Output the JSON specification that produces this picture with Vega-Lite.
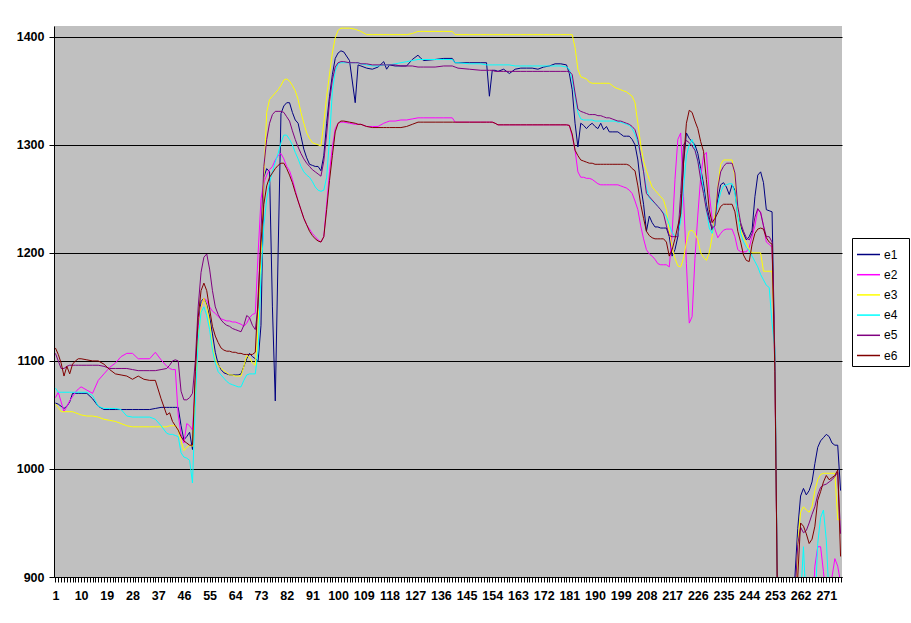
{
"$schema": "https://vega.github.io/schema/vega-lite/v6.json",
"width": 788, "height": 551,
"autosize": {"type": "none"},
"padding": {"left": 54, "top": 26, "right": 69, "bottom": 46},
"background": "white",
"config": {"view": {"fill": "#C0C0C0", "stroke": null}},
"data": {"values": [
{"i":1,"e1":1061,"e2":1066,"e3":1060,"e4":1075,"e5":1107,"e6":1112},
{"i":2,"e1":1060,"e2":1071,"e3":1057,"e4":1071,"e5":1100,"e6":1106},
{"i":3,"e1":1058,"e2":1062,"e3":1053,"e4":1071,"e5":1093,"e6":1098},
{"i":4,"e1":1056,"e2":1053,"e3":1053,"e4":1071,"e5":1093,"e6":1086},
{"i":5,"e1":1058,"e2":1058,"e3":1053,"e4":1071,"e5":1095,"e6":1095},
{"i":6,"e1":1062,"e2":1063,"e3":1053,"e4":1071,"e5":1096,"e6":1088},
{"i":7,"e1":1070,"e2":1067,"e3":1053,"e4":1071,"e5":1096,"e6":1097},
{"i":8,"e1":1070,"e2":1071,"e3":1052,"e4":1071,"e5":1096,"e6":1100},
{"i":9,"e1":1070,"e2":1074,"e3":1051,"e4":1071,"e5":1096,"e6":1102},
{"i":10,"e1":1070,"e2":1076,"e3":1050,"e4":1071,"e5":1096,"e6":1102},
{"i":12,"e1":1070,"e2":1073,"e3":1049,"e4":1071,"e5":1096,"e6":1101},
{"i":14,"e1":1065,"e2":1070,"e3":1049,"e4":1068,"e5":1096,"e6":1100},
{"i":16,"e1":1058,"e2":1082,"e3":1048,"e4":1058,"e5":1096,"e6":1100},
{"i":18,"e1":1055,"e2":1088,"e3":1046,"e4":1056,"e5":1095,"e6":1097},
{"i":20,"e1":1055,"e2":1094,"e3":1045,"e4":1056,"e5":1093,"e6":1092},
{"i":22,"e1":1055,"e2":1098,"e3":1044,"e4":1056,"e5":1093,"e6":1088},
{"i":24,"e1":1055,"e2":1104,"e3":1042,"e4":1055,"e5":1093,"e6":1087},
{"i":26,"e1":1055,"e2":1107,"e3":1040,"e4":1049,"e5":1093,"e6":1086},
{"i":28,"e1":1055,"e2":1107,"e3":1039,"e4":1048,"e5":1092,"e6":1083},
{"i":30,"e1":1055,"e2":1102,"e3":1039,"e4":1048,"e5":1091,"e6":1086},
{"i":32,"e1":1055,"e2":1102,"e3":1039,"e4":1048,"e5":1091,"e6":1083},
{"i":34,"e1":1055,"e2":1102,"e3":1039,"e4":1048,"e5":1091,"e6":1082},
{"i":36,"e1":1056,"e2":1108,"e3":1039,"e4":1046,"e5":1091,"e6":1082},
{"i":38,"e1":1057,"e2":1101,"e3":1039,"e4":1040,"e5":1092,"e6":1065},
{"i":40,"e1":1057,"e2":1095,"e3":1039,"e4":1033,"e5":1093,"e6":1050},
{"i":41,"e1":1057,"e2":1093,"e3":1040,"e4":1032,"e5":1096,"e6":1052},
{"i":42,"e1":1057,"e2":1092,"e3":1040,"e4":1032,"e5":1100,"e6":1044},
{"i":43,"e1":1057,"e2":1092,"e3":1040,"e4":1031,"e5":1101,"e6":1040},
{"i":44,"e1":1057,"e2":1050,"e3":1036,"e4":1030,"e5":1100,"e6":1036},
{"i":45,"e1":1040,"e2":1032,"e3":1026,"e4":1015,"e5":1072,"e6":1030},
{"i":46,"e1":1027,"e2":1024,"e3":1017,"e4":1011,"e5":1064,"e6":1026},
{"i":47,"e1":1030,"e2":1042,"e3":1020,"e4":1010,"e5":1064,"e6":1024},
{"i":48,"e1":1034,"e2":1040,"e3":1022,"e4":1008,"e5":1066,"e6":1022},
{"i":49,"e1":1018,"e2":1036,"e3":1021,"e4":987,"e5":1070,"e6":1022},
{"i":50,"e1":1080,"e2":1080,"e3":1070,"e4":1060,"e5":1100,"e6":1090},
{"i":51,"e1":1130,"e2":1130,"e3":1120,"e4":1120,"e5":1150,"e6":1140},
{"i":52,"e1":1155,"e2":1150,"e3":1150,"e4":1145,"e5":1182,"e6":1165},
{"i":53,"e1":1158,"e2":1158,"e3":1158,"e4":1150,"e5":1196,"e6":1172},
{"i":54,"e1":1152,"e2":1156,"e3":1150,"e4":1142,"e5":1199,"e6":1165},
{"i":55,"e1":1141,"e2":1150,"e3":1136,"e4":1129,"e5":1185,"e6":1148},
{"i":56,"e1":1125,"e2":1146,"e3":1112,"e4":1110,"e5":1165,"e6":1132},
{"i":57,"e1":1108,"e2":1144,"e3":1101,"e4":1098,"e5":1150,"e6":1123},
{"i":58,"e1":1097,"e2":1141,"e3":1096,"e4":1090,"e5":1143,"e6":1117},
{"i":59,"e1":1092,"e2":1139,"e3":1093,"e4":1087,"e5":1138,"e6":1112},
{"i":60,"e1":1089,"e2":1138,"e3":1091,"e4":1084,"e5":1135,"e6":1110},
{"i":61,"e1":1088,"e2":1137,"e3":1089,"e4":1081,"e5":1133,"e6":1109},
{"i":62,"e1":1087,"e2":1137,"e3":1087,"e4":1079,"e5":1132,"e6":1109},
{"i":63,"e1":1087,"e2":1136,"e3":1087,"e4":1078,"e5":1130,"e6":1108},
{"i":64,"e1":1087,"e2":1136,"e3":1086,"e4":1077,"e5":1129,"e6":1108},
{"i":65,"e1":1087,"e2":1135,"e3":1086,"e4":1076,"e5":1128,"e6":1107},
{"i":66,"e1":1088,"e2":1134,"e3":1086,"e4":1076,"e5":1127,"e6":1107},
{"i":67,"e1":1095,"e2":1132,"e3":1095,"e4":1082,"e5":1133,"e6":1106},
{"i":68,"e1":1102,"e2":1135,"e3":1105,"e4":1087,"e5":1142,"e6":1106},
{"i":69,"e1":1107,"e2":1140,"e3":1103,"e4":1088,"e5":1140,"e6":1106},
{"i":70,"e1":1104,"e2":1143,"e3":1098,"e4":1088,"e5":1133,"e6":1106},
{"i":71,"e1":1102,"e2":1144,"e3":1096,"e4":1088,"e5":1129,"e6":1108},
{"i":72,"e1":1100,"e2":1200,"e3":1130,"e4":1110,"e5":1150,"e6":1160},
{"i":73,"e1":1133,"e2":1250,"e3":1200,"e4":1180,"e5":1220,"e6":1210},
{"i":74,"e1":1270,"e2":1265,"e3":1270,"e4":1225,"e5":1280,"e6":1245},
{"i":75,"e1":1278,"e2":1272,"e3":1330,"e4":1250,"e5":1305,"e6":1262},
{"i":76,"e1":1275,"e2":1277,"e3":1342,"e4":1265,"e5":1320,"e6":1270},
{"i":77,"e1":1150,"e2":1280,"e3":1345,"e4":1275,"e5":1328,"e6":1274},
{"i":78,"e1":1063,"e2":1286,"e3":1348,"e4":1284,"e5":1331,"e6":1278},
{"i":79,"e1":1200,"e2":1290,"e3":1351,"e4":1292,"e5":1331,"e6":1281},
{"i":80,"e1":1329,"e2":1292,"e3":1355,"e4":1302,"e5":1331,"e6":1283},
{"i":81,"e1":1336,"e2":1287,"e3":1360,"e4":1309,"e5":1330,"e6":1283},
{"i":82,"e1":1339,"e2":1280,"e3":1361,"e4":1309,"e5":1326,"e6":1278},
{"i":83,"e1":1339,"e2":1276,"e3":1359,"e4":1305,"e5":1322,"e6":1272},
{"i":84,"e1":1330,"e2":1268,"e3":1355,"e4":1300,"e5":1313,"e6":1265},
{"i":85,"e1":1323,"e2":1258,"e3":1350,"e4":1293,"e5":1305,"e6":1256},
{"i":86,"e1":1320,"e2":1248,"e3":1342,"e4":1287,"e5":1298,"e6":1248},
{"i":87,"e1":1308,"e2":1240,"e3":1330,"e4":1280,"e5":1292,"e6":1240},
{"i":88,"e1":1296,"e2":1232,"e3":1320,"e4":1275,"e5":1287,"e6":1232},
{"i":89,"e1":1288,"e2":1226,"e3":1311,"e4":1272,"e5":1283,"e6":1226},
{"i":90,"e1":1282,"e2":1222,"e3":1306,"e4":1270,"e5":1280,"e6":1220},
{"i":91,"e1":1281,"e2":1218,"e3":1302,"e4":1266,"e5":1277,"e6":1216},
{"i":92,"e1":1280,"e2":1215,"e3":1301,"e4":1261,"e5":1275,"e6":1213},
{"i":93,"e1":1280,"e2":1212,"e3":1300,"e4":1258,"e5":1273,"e6":1211},
{"i":94,"e1":1276,"e2":1210,"e3":1299,"e4":1257,"e5":1271,"e6":1210},
{"i":95,"e1":1290,"e2":1215,"e3":1320,"e4":1258,"e5":1285,"e6":1215},
{"i":96,"e1":1320,"e2":1245,"e3":1345,"e4":1270,"e5":1310,"e6":1240},
{"i":97,"e1":1345,"e2":1275,"e3":1365,"e4":1305,"e5":1340,"e6":1267},
{"i":98,"e1":1365,"e2":1298,"e3":1385,"e4":1350,"e5":1360,"e6":1290},
{"i":99,"e1":1380,"e2":1315,"e3":1399,"e4":1368,"e5":1372,"e6":1312},
{"i":100,"e1":1385,"e2":1320,"e3":1406,"e4":1375,"e5":1376,"e6":1320},
{"i":101,"e1":1387,"e2":1321,"e3":1408,"e4":1376,"e5":1377,"e6":1322},
{"i":102,"e1":1386,"e2":1321,"e3":1408,"e4":1376,"e5":1377,"e6":1322},
{"i":104,"e1":1378,"e2":1320,"e3":1408,"e4":1376,"e5":1376,"e6":1321},
{"i":106,"e1":1339,"e2":1319,"e3":1407,"e4":1376,"e5":1376,"e6":1320},
{"i":107,"e1":1374,"e2":1319,"e3":1406,"e4":1376,"e5":1376,"e6":1319},
{"i":108,"e1":1373,"e2":1319,"e3":1405,"e4":1375,"e5":1375,"e6":1319},
{"i":110,"e1":1371,"e2":1317,"e3":1402,"e4":1374,"e5":1375,"e6":1317},
{"i":112,"e1":1370,"e2":1317,"e3":1402,"e4":1373,"e5":1374,"e6":1316},
{"i":114,"e1":1372,"e2":1317,"e3":1402,"e4":1373,"e5":1374,"e6":1316},
{"i":116,"e1":1377,"e2":1320,"e3":1402,"e4":1374,"e5":1374,"e6":1316},
{"i":117,"e1":1370,"e2":1321,"e3":1402,"e4":1374,"e5":1374,"e6":1316},
{"i":118,"e1":1374,"e2":1322,"e3":1402,"e4":1374,"e5":1374,"e6":1316},
{"i":120,"e1":1373,"e2":1322,"e3":1402,"e4":1375,"e5":1374,"e6":1316},
{"i":122,"e1":1373,"e2":1323,"e3":1402,"e4":1376,"e5":1373,"e6":1316},
{"i":124,"e1":1373,"e2":1323,"e3":1402,"e4":1377,"e5":1373,"e6":1317},
{"i":126,"e1":1379,"e2":1324,"e3":1403,"e4":1378,"e5":1373,"e6":1319},
{"i":128,"e1":1383,"e2":1325,"e3":1405,"e4":1379,"e5":1372,"e6":1321},
{"i":129,"e1":1380,"e2":1325,"e3":1405,"e4":1379,"e5":1372,"e6":1321},
{"i":130,"e1":1378,"e2":1325,"e3":1405,"e4":1379,"e5":1372,"e6":1321},
{"i":134,"e1":1379,"e2":1325,"e3":1405,"e4":1379,"e5":1372,"e6":1321},
{"i":137,"e1":1380,"e2":1325,"e3":1405,"e4":1379,"e5":1373,"e6":1321},
{"i":140,"e1":1380,"e2":1325,"e3":1405,"e4":1379,"e5":1373,"e6":1321},
{"i":141,"e1":1376,"e2":1321,"e3":1402,"e4":1376,"e5":1372,"e6":1321},
{"i":142,"e1":1376,"e2":1321,"e3":1402,"e4":1376,"e5":1371,"e6":1321},
{"i":146,"e1":1376,"e2":1321,"e3":1402,"e4":1375,"e5":1370,"e6":1321},
{"i":150,"e1":1376,"e2":1321,"e3":1402,"e4":1375,"e5":1369,"e6":1321},
{"i":152,"e1":1376,"e2":1321,"e3":1402,"e4":1374,"e5":1369,"e6":1321},
{"i":153,"e1":1345,"e2":1321,"e3":1402,"e4":1374,"e5":1369,"e6":1321},
{"i":154,"e1":1369,"e2":1321,"e3":1402,"e4":1374,"e5":1369,"e6":1321},
{"i":155,"e1":1369,"e2":1320,"e3":1402,"e4":1374,"e5":1368,"e6":1320},
{"i":156,"e1":1368,"e2":1318.5,"e3":1402,"e4":1374,"e5":1368,"e6":1318.5},
{"i":158,"e1":1370,"e2":1318.5,"e3":1402,"e4":1374,"e5":1368,"e6":1318.5},
{"i":160,"e1":1366,"e2":1318.5,"e3":1402,"e4":1374,"e5":1368,"e6":1318.5},
{"i":162,"e1":1370,"e2":1318.5,"e3":1402,"e4":1373,"e5":1368,"e6":1318.5},
{"i":164,"e1":1371,"e2":1318.5,"e3":1402,"e4":1373,"e5":1368,"e6":1318.5},
{"i":166,"e1":1371,"e2":1318.5,"e3":1402,"e4":1373,"e5":1368,"e6":1318.5},
{"i":168,"e1":1371,"e2":1318.5,"e3":1402,"e4":1373,"e5":1368,"e6":1318.5},
{"i":170,"e1":1370,"e2":1318.5,"e3":1402,"e4":1373,"e5":1368,"e6":1318.5},
{"i":172,"e1":1372,"e2":1318.5,"e3":1402,"e4":1373,"e5":1368,"e6":1318.5},
{"i":174,"e1":1373,"e2":1318.5,"e3":1402,"e4":1373,"e5":1368,"e6":1318.5},
{"i":176,"e1":1375,"e2":1318.5,"e3":1402,"e4":1373,"e5":1368,"e6":1318.5},
{"i":178,"e1":1375,"e2":1318.5,"e3":1402,"e4":1373,"e5":1368,"e6":1318.5},
{"i":180,"e1":1374,"e2":1318.5,"e3":1402,"e4":1372,"e5":1368,"e6":1318.5},
{"i":181,"e1":1366,"e2":1318,"e3":1402,"e4":1370,"e5":1368,"e6":1318},
{"i":182,"e1":1351,"e2":1308,"e3":1402,"e4":1360,"e5":1365,"e6":1310},
{"i":183,"e1":1320,"e2":1295,"e3":1390,"e4":1345,"e5":1348,"e6":1295},
{"i":184,"e1":1298,"e2":1275,"e3":1370,"e4":1330,"e5":1333,"e6":1290},
{"i":185,"e1":1320,"e2":1270,"e3":1363,"e4":1324,"e5":1331,"e6":1286},
{"i":186,"e1":1318,"e2":1270,"e3":1362,"e4":1323,"e5":1330,"e6":1285},
{"i":187,"e1":1315,"e2":1269,"e3":1361,"e4":1323,"e5":1329,"e6":1284},
{"i":188,"e1":1318,"e2":1269,"e3":1358,"e4":1323,"e5":1328,"e6":1283},
{"i":189,"e1":1320,"e2":1268,"e3":1357,"e4":1323,"e5":1328,"e6":1283},
{"i":190,"e1":1317,"e2":1266,"e3":1357,"e4":1322,"e5":1328,"e6":1282},
{"i":191,"e1":1315,"e2":1264,"e3":1357,"e4":1322,"e5":1327,"e6":1282},
{"i":192,"e1":1320,"e2":1263,"e3":1357,"e4":1322,"e5":1327,"e6":1282},
{"i":193,"e1":1314,"e2":1263,"e3":1357,"e4":1322,"e5":1326,"e6":1282},
{"i":194,"e1":1317,"e2":1263,"e3":1357,"e4":1322,"e5":1325,"e6":1282},
{"i":195,"e1":1312,"e2":1263,"e3":1357,"e4":1322,"e5":1325,"e6":1282},
{"i":196,"e1":1312,"e2":1263,"e3":1355,"e4":1322,"e5":1324,"e6":1282},
{"i":197,"e1":1312,"e2":1263,"e3":1353,"e4":1322,"e5":1323,"e6":1282},
{"i":198,"e1":1312,"e2":1263,"e3":1352,"e4":1321,"e5":1322,"e6":1282},
{"i":199,"e1":1310,"e2":1262,"e3":1351,"e4":1321,"e5":1322,"e6":1282},
{"i":200,"e1":1308,"e2":1261,"e3":1350,"e4":1320,"e5":1321,"e6":1282},
{"i":201,"e1":1308,"e2":1260,"e3":1349,"e4":1319,"e5":1320,"e6":1282},
{"i":202,"e1":1308,"e2":1258,"e3":1347,"e4":1318,"e5":1319,"e6":1281},
{"i":203,"e1":1305,"e2":1255,"e3":1345,"e4":1315,"e5":1317,"e6":1278},
{"i":204,"e1":1300,"e2":1248,"e3":1339,"e4":1310,"e5":1314,"e6":1276},
{"i":205,"e1":1286,"e2":1240,"e3":1320,"e4":1302,"e5":1305,"e6":1262},
{"i":206,"e1":1262,"e2":1225,"e3":1300,"e4":1290,"e5":1290,"e6":1245},
{"i":207,"e1":1245,"e2":1213,"e3":1285,"e4":1275,"e5":1275,"e6":1232},
{"i":208,"e1":1220,"e2":1203,"e3":1276,"e4":1260,"e5":1255,"e6":1220},
{"i":209,"e1":1234,"e2":1199,"e3":1268,"e4":1251,"e5":1252,"e6":1216},
{"i":210,"e1":1228,"e2":1197,"e3":1261,"e4":1248,"e5":1249,"e6":1214},
{"i":211,"e1":1224,"e2":1194,"e3":1258,"e4":1246,"e5":1246,"e6":1213},
{"i":212,"e1":1224,"e2":1190,"e3":1255,"e4":1243,"e5":1243,"e6":1213},
{"i":213,"e1":1223,"e2":1189,"e3":1252,"e4":1240,"e5":1240,"e6":1213},
{"i":214,"e1":1223,"e2":1189,"e3":1249,"e4":1237,"e5":1236,"e6":1213},
{"i":215,"e1":1223,"e2":1189,"e3":1240,"e4":1234,"e5":1225,"e6":1210},
{"i":216,"e1":1215,"e2":1187,"e3":1221,"e4":1226,"e5":1216,"e6":1197},
{"i":217,"e1":1197,"e2":1218,"e3":1205,"e4":1219,"e5":1215,"e6":1203},
{"i":218,"e1":1203,"e2":1268,"e3":1195,"e4":1215,"e5":1215,"e6":1213},
{"i":219,"e1":1215,"e2":1305,"e3":1188,"e4":1216,"e5":1215,"e6":1225},
{"i":220,"e1":1237,"e2":1311,"e3":1187,"e4":1230,"e5":1255,"e6":1236},
{"i":221,"e1":1283,"e2":1252,"e3":1195,"e4":1260,"e5":1300,"e6":1285},
{"i":222,"e1":1311,"e2":1190,"e3":1210,"e4":1290,"e5":1304,"e6":1320},
{"i":223,"e1":1306,"e2":1135,"e3":1220,"e4":1300,"e5":1302,"e6":1332},
{"i":224,"e1":1303,"e2":1141,"e3":1221,"e4":1305,"e5":1299,"e6":1330},
{"i":225,"e1":1300,"e2":1195,"e3":1218,"e4":1296,"e5":1295,"e6":1322},
{"i":226,"e1":1292,"e2":1235,"e3":1212,"e4":1285,"e5":1285,"e6":1315},
{"i":227,"e1":1278,"e2":1270,"e3":1200,"e4":1275,"e5":1268,"e6":1303},
{"i":228,"e1":1264,"e2":1290,"e3":1196,"e4":1258,"e5":1255,"e6":1294},
{"i":229,"e1":1245,"e2":1293,"e3":1193,"e4":1240,"e5":1240,"e6":1268},
{"i":230,"e1":1233,"e2":1255,"e3":1200,"e4":1223,"e5":1230,"e6":1240},
{"i":231,"e1":1221,"e2":1232,"e3":1215,"e4":1218,"e5":1223,"e6":1228},
{"i":232,"e1":1232,"e2":1222,"e3":1235,"e4":1228,"e5":1225,"e6":1232},
{"i":233,"e1":1250,"e2":1214,"e3":1261,"e4":1245,"e5":1260,"e6":1237},
{"i":234,"e1":1263,"e2":1218,"e3":1282,"e4":1256,"e5":1275,"e6":1243},
{"i":235,"e1":1265,"e2":1221,"e3":1286,"e4":1262,"e5":1280,"e6":1245},
{"i":236,"e1":1261,"e2":1222,"e3":1286,"e4":1263,"e5":1283,"e6":1245},
{"i":237,"e1":1254,"e2":1222,"e3":1286,"e4":1264,"e5":1283,"e6":1245},
{"i":238,"e1":1263,"e2":1222,"e3":1286,"e4":1264,"e5":1283,"e6":1245},
{"i":239,"e1":1258,"e2":1215,"e3":1270,"e4":1255,"e5":1274,"e6":1238},
{"i":240,"e1":1235,"e2":1203,"e3":1237,"e4":1235,"e5":1243,"e6":1220},
{"i":241,"e1":1225,"e2":1201,"e3":1221,"e4":1218,"e5":1228,"e6":1210},
{"i":242,"e1":1218,"e2":1201,"e3":1214,"e4":1210,"e5":1220,"e6":1198},
{"i":243,"e1":1212,"e2":1201,"e3":1209,"e4":1205,"e5":1214,"e6":1193},
{"i":244,"e1":1215,"e2":1205,"e3":1203,"e4":1202,"e5":1212,"e6":1192},
{"i":245,"e1":1221,"e2":1215,"e3":1200,"e4":1197,"e5":1218,"e6":1208},
{"i":246,"e1":1252,"e2":1225,"e3":1200,"e4":1192,"e5":1233,"e6":1218},
{"i":247,"e1":1272,"e2":1240,"e3":1200,"e4":1187,"e5":1241,"e6":1222},
{"i":248,"e1":1275,"e2":1238,"e3":1200,"e4":1180,"e5":1237,"e6":1223},
{"i":249,"e1":1265,"e2":1225,"e3":1183,"e4":1175,"e5":1225,"e6":1222},
{"i":250,"e1":1240,"e2":1210,"e3":1183,"e4":1170,"e5":1215,"e6":1214},
{"i":251,"e1":1239,"e2":1208,"e3":1183,"e4":1168,"e5":1215,"e6":1210},
{"i":252,"e1":1238,"e2":1205,"e3":1183,"e4":1135,"e5":1210,"e6":1208},
{"i":253,"e1":1100,"e2":1090,"e3":1100,"e4":1110,"e5":1100,"e6":1090},
{"i":254,"e1":850,"e2":850,"e3":850,"e4":850,"e5":850,"e6":850},
{"i":259,"e1":850,"e2":850,"e3":850,"e4":850,"e5":850,"e6":850},
{"i":260,"e1":900,"e2":850,"e3":850,"e4":850,"e5":880,"e6":860},
{"i":261,"e1":945,"e2":850,"e3":930,"e4":850,"e5":930,"e6":900},
{"i":262,"e1":975,"e2":850,"e3":960,"e4":880,"e5":946,"e6":950},
{"i":263,"e1":982,"e2":850,"e3":965,"e4":928,"e5":941,"e6":947},
{"i":264,"e1":976,"e2":850,"e3":962,"e4":870,"e5":943,"e6":940},
{"i":265,"e1":980,"e2":850,"e3":960,"e4":860,"e5":950,"e6":931},
{"i":266,"e1":988,"e2":860,"e3":965,"e4":860,"e5":958,"e6":935},
{"i":267,"e1":1005,"e2":910,"e3":980,"e4":870,"e5":965,"e6":947},
{"i":268,"e1":1020,"e2":928,"e3":990,"e4":931,"e5":976,"e6":971},
{"i":269,"e1":1026,"e2":928,"e3":995,"e4":955,"e5":983,"e6":979},
{"i":270,"e1":1029,"e2":905,"e3":996,"e4":962,"e5":985,"e6":988},
{"i":271,"e1":1032,"e2":880,"e3":996,"e4":934,"e5":986,"e6":994},
{"i":272,"e1":1030,"e2":880,"e3":996,"e4":880,"e5":988,"e6":990},
{"i":273,"e1":1024,"e2":900,"e3":996,"e4":870,"e5":990,"e6":992},
{"i":274,"e1":1022,"e2":917,"e3":996,"e4":870,"e5":993,"e6":994},
{"i":275,"e1":1022,"e2":910,"e3":953,"e4":895,"e5":997,"e6":999},
{"i":276,"e1":980,"e2":895,"e3":953,"e4":895,"e5":940,"e6":919}
]},
"transform": [
{"fold": ["e1","e2","e3","e4","e5","e6"], "as": ["series","value"]}
],
"mark": {"type": "line", "strokeWidth": 1, "clip": true},
"encoding": {
"x": {"field": "i", "type": "quantitative",
"scale": {"domain": [0.5, 276.5], "nice": false, "zero": false},
"axis": {"title": null, "grid": false, "format": "d",
"values": [1,2,3,4,5,6,7,8,9,10,11,12,13,14,15,16,17,18,19,20,21,22,23,24,25,26,27,28,29,30,31,32,33,34,35,36,37,38,39,40,41,42,43,44,45,46,47,48,49,50,51,52,53,54,55,56,57,58,59,60,61,62,63,64,65,66,67,68,69,70,71,72,73,74,75,76,77,78,79,80,81,82,83,84,85,86,87,88,89,90,91,92,93,94,95,96,97,98,99,100,101,102,103,104,105,106,107,108,109,110,111,112,113,114,115,116,117,118,119,120,121,122,123,124,125,126,127,128,129,130,131,132,133,134,135,136,137,138,139,140,141,142,143,144,145,146,147,148,149,150,151,152,153,154,155,156,157,158,159,160,161,162,163,164,165,166,167,168,169,170,171,172,173,174,175,176,177,178,179,180,181,182,183,184,185,186,187,188,189,190,191,192,193,194,195,196,197,198,199,200,201,202,203,204,205,206,207,208,209,210,211,212,213,214,215,216,217,218,219,220,221,222,223,224,225,226,227,228,229,230,231,232,233,234,235,236,237,238,239,240,241,242,243,244,245,246,247,248,249,250,251,252,253,254,255,256,257,258,259,260,261,262,263,264,265,266,267,268,269,270,271,272,273,274,275,276],
"labelExpr": "(datum.value - 1) % 9 == 0 ? datum.label : ''",
"labelOverlap": false, "labelFlush": false, "labelAngle": 0,
"domainColor": "black", "tickColor": "black", "tickSize": 5, "labelPadding": 7,
"labelFont": "Liberation Sans", "labelFontWeight": "bold", "labelFontSize": 12.5, "labelColor": "black"}},
"y": {"field": "value", "type": "quantitative",
"scale": {"domain": [900, 1410], "nice": false, "zero": false},
"axis": {"title": null, "values": [900,1000,1100,1200,1300,1400], "format": "d",
"grid": true, "gridColor": "black", "gridOpacity": 1, "gridWidth": 1,
"domainColor": "black", "tickColor": "black", "tickSize": 5, "labelPadding": 5,
"labelFont": "Liberation Sans", "labelFontWeight": "bold", "labelFontSize": 12.5, "labelColor": "black"}},
"color": {"field": "series", "type": "nominal",
"scale": {"domain": ["e1","e2","e3","e4","e5","e6"], "range": ["#000080","#FF00FF","#FFFF00","#00FFFF","#800080","#800000"]},
"legend": {"orient": "none", "legendX": 798, "legendY": 212, "title": null,
"symbolType": "stroke", "symbolSize": 529, "symbolStrokeWidth": 1.5,
"labelExpr": "datum.label + '\u00a0\u00a0\u200b'",
"labelFont": "Liberation Sans", "labelFontSize": 12, "labelColor": "black", "labelOffset": 3,
"strokeColor": "black", "fillColor": "white", "padding": 4, "rowPadding": 1.2, "cornerRadius": 0}}
}
}
